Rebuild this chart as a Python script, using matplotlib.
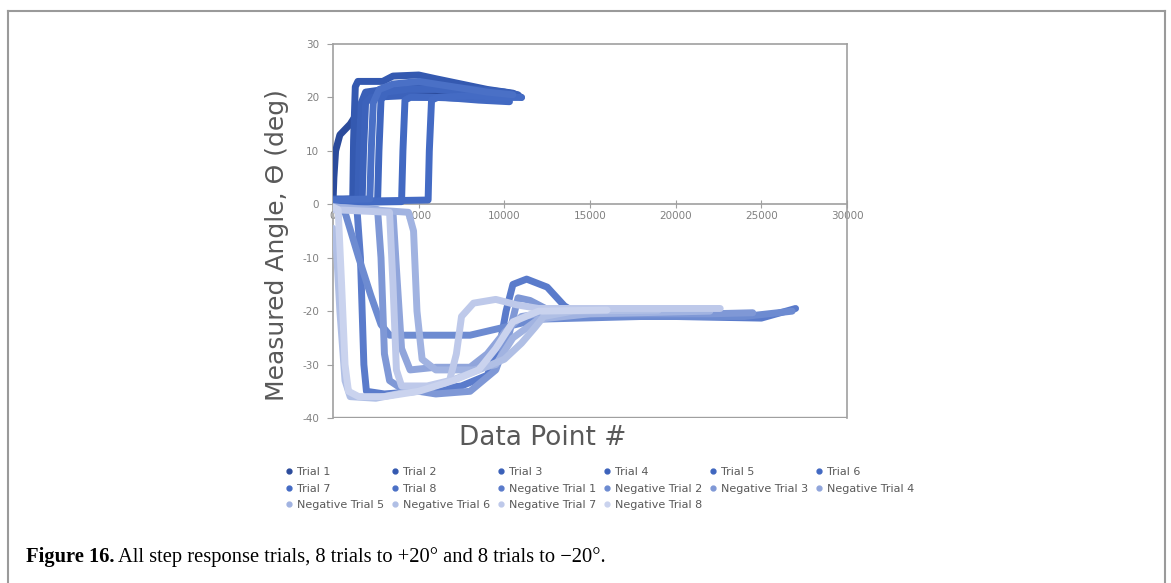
import matplotlib
matplotlib.use("Agg")
import matplotlib.pyplot as plt
from matplotlib.lines import Line2D

# ---- data ----
trial1_x = [0, 50, 150, 400, 1000, 1300, 1700, 2100, 2600, 3500, 5000, 7000, 9000, 10200]
trial1_y = [0.5, 5, 10, 13, 15, 16.5, 18.5, 20.5, 21, 21.2, 20.8, 20.5, 20.3, 20]
trial2_x = [0, 1150, 1200, 1300, 1450, 2900, 3500, 5000, 6000, 7500, 9000, 10500, 11000]
trial2_y = [0.8, 1, 12, 22, 23, 23, 24, 24.2, 23.5, 22.5, 21.5, 20.8, 20]
trial3_x = [0, 1450, 1520, 1650, 1900, 3000, 4500, 6500, 8500, 10000, 10800]
trial3_y = [0.5, 0.8, 10, 19, 21, 21.5, 22, 22, 21.5, 21, 20.5]
trial4_x = [0, 1700, 1780, 1900, 2200, 4000, 6000, 8000, 9500]
trial4_y = [1, 1, 10, 19, 20, 20.3, 20, 19.8, 19.5]
trial5_x = [0, 2600, 2680, 2800, 3100, 4300, 6000, 8000, 9800]
trial5_y = [0.5, 0.6, 10, 19.5, 21, 21.5, 21.5, 21, 20.5]
trial6_x = [0, 4000, 4080, 4200, 4500, 6500, 8500, 10300]
trial6_y = [0.3, 0.5, 10, 19.5, 20, 20, 19.5, 19.2]
trial7_x = [0, 5550, 5620, 5750, 6100, 8000, 10000, 11000]
trial7_y = [0.5, 0.8, 10, 19.5, 20, 20.3, 20, 20]
trial8_x = [0, 2150, 2230, 2350, 2700, 3500, 5000, 7000, 9000, 10500]
trial8_y = [0.8, 1, 10, 19, 21.5, 22.5, 23, 22, 21, 20.5]

neg1_x = [0, 1400, 1600, 1800, 1950, 3000, 5000, 7500, 9000, 9700, 10100, 10500, 11300, 12500, 13500, 14500, 20000, 25000, 27000]
neg1_y = [-0.5, -1, -10, -30, -35, -35.5, -35, -34, -32, -27, -20, -15, -14, -15.5, -19, -21, -21, -21.3, -19.5]
neg2_x = [0, 700, 1500, 2200, 2800, 3300, 8000, 10000, 12000, 18000, 24000, 26800]
neg2_y = [-0.5, -1.5, -10, -17, -22.5, -24.5, -24.5, -23, -21.5, -21, -21, -20]
neg3_x = [0, 2600, 2800, 3000, 3300, 4000, 6000, 8000, 9500, 10300, 10800, 11500, 13000, 22000, 24500]
neg3_y = [-0.5, -1, -10, -28, -33, -34.5, -35.5, -35, -31, -24, -17.5, -18, -20.5, -20.5, -20.3]
neg4_x = [0, 3500, 3700, 4000, 4500, 6000, 8000, 9000, 10000, 11000, 13000, 20000]
neg4_y = [-0.5, -1.5, -12, -27, -31, -30.5, -30.5, -28, -24, -21, -20, -20]
neg5_x = [0, 4400, 4700, 4900, 5200, 6000, 8200, 9500, 10500, 12000, 15000, 22000]
neg5_y = [-0.5, -1.5, -5, -20, -29, -31, -31, -30, -25, -21.5, -20.5, -20]
neg6_x = [0, 150, 400, 700, 1000, 2500, 4500, 6500, 8500, 10000, 11000, 11800, 12300, 14000, 19000]
neg6_y = [-4.5, -5.5, -20, -33, -36, -36.3, -35, -33.5, -31, -29, -26, -23, -21, -20, -19.8]
neg7_x = [0, 3300, 3500, 3700, 4000, 5500, 6800, 7200, 7500, 8200, 9500, 10700, 12000, 22600]
neg7_y = [-1, -1.5, -15, -31, -34, -34, -33, -28, -21, -18.5, -17.8, -18.8, -19.5, -19.5]
neg8_x = [0, 300, 500, 700, 900, 1500, 3000, 5000, 7000, 8500, 9500, 10500, 12000, 16000]
neg8_y = [-0.5, -1, -15, -30, -35, -36, -36, -35, -33, -31, -27, -22, -20, -19.8]

pos_x = [trial1_x, trial2_x, trial3_x, trial4_x, trial5_x, trial6_x, trial7_x, trial8_x]
pos_y = [trial1_y, trial2_y, trial3_y, trial4_y, trial5_y, trial6_y, trial7_y, trial8_y]
neg_x = [neg1_x, neg2_x, neg3_x, neg4_x, neg5_x, neg6_x, neg7_x, neg8_x]
neg_y = [neg1_y, neg2_y, neg3_y, neg4_y, neg5_y, neg6_y, neg7_y, neg8_y]

pos_labels = ["Trial %d" % i for i in range(1, 9)]
neg_labels = ["Negative Trial %d" % i for i in range(1, 9)]

pos_colors = ["#2b4b9b", "#3459b0", "#3a60b8", "#3c62bb", "#3f66bf", "#4269c2", "#446bc4", "#4a70c6"]
neg_colors = ["#5a7bcb", "#6d8bd1", "#7f98d6", "#90a5db", "#a1b3e1", "#b0bfe5", "#bec9ea", "#cad3ee"]

xticks = [0, 5000, 10000, 15000, 20000, 25000, 30000]
yticks = [-40, -30, -20, -10, 0, 10, 20, 30]

grey = "#808080"
font = "DejaVu Sans"

fig = plt.figure(figsize=(11.71, 5.83), dpi=100)
ax = fig.add_axes([0.2844, 0.283, 0.4389, 0.6415])

handles = []
for xs, ys, c, lab in zip(pos_x + neg_x, pos_y + neg_y, pos_colors + neg_colors, pos_labels + neg_labels):
    ax.plot(xs, ys, color=c, lw=5, solid_capstyle="round", solid_joinstyle="round", zorder=3)
    handles.append(Line2D([], [], ls="none", marker="o", ms=3.5, color=c, label=lab))

ax.set_xlim(0, 30000)
ax.set_ylim(-40, 30)

for s in ax.spines.values():
    s.set_color("#a0a0a0")
    s.set_linewidth(1.2)
ax.spines["bottom"].set_position(("data", 0))
ax.axhline(-40, color="#a0a0a0", lw=2.4, zorder=2.4)

ax.set_xticks(xticks)
ax.set_yticks(yticks)
ax.set_xticklabels([str(v) for v in xticks], family=font)
ax.set_yticklabels([str(v) for v in yticks], family=font)
ax.tick_params(axis="both", labelsize=7.5, labelcolor=grey)
ax.tick_params(axis="x", direction="inout", length=6, color="#a0a0a0", pad=2)
ax.tick_params(axis="y", direction="out", length=4, color="#a0a0a0", pad=6)

ax.set_ylabel("Measured Angle, ϴ (deg)", fontsize=18, color="#595959", family=font)
ax.yaxis.set_label_coords(-0.086, 0.463)
fig.text(0.4637, 1 - 438 / 583, "Data Point #", fontsize=19, color="#595959", family=font,
         ha="center", va="center")

# legend in row-major order
order = []
for col in range(6):
    for row in range(3):
        k = row * 6 + col
        if k < 16:
            order.append(handles[k])
fig.legend(handles=order, ncol=6, loc="upper left", bbox_to_anchor=(0.243, 1 - 467 / 583), frameon=False,
           prop={"family": font, "size": 8}, labelcolor="#595959", handletextpad=0.3,
           columnspacing=0.6, handlelength=0.8, labelspacing=0.6, borderaxespad=0, borderpad=0)

# page frame
frame_kw = dict(color="#9a9a9a", lw=1.5, transform=fig.transFigure)
fig.add_artist(Line2D([8 / 1171, 1165 / 1171], [1 - 11 / 583, 1 - 11 / 583], **frame_kw))
fig.add_artist(Line2D([8 / 1171, 8 / 1171], [0, 1 - 11 / 583], **frame_kw))
fig.add_artist(Line2D([1165 / 1171, 1165 / 1171], [0, 1 - 11 / 583], **frame_kw))

# caption
t1 = fig.text(26 / 1171, 1 - 557 / 583, "Figure 16.", fontsize=14.8, fontweight="bold",
              family="Liberation Serif", va="center")
plt.annotate(" All step response trials, 8 trials to +20° and 8 trials to \u221220°.",
             xy=(1, 0.5), xycoords=t1, va="center", ha="left",
             fontsize=14.8, family="Liberation Serif", annotation_clip=False)

fig.savefig("out.png", dpi=100)
